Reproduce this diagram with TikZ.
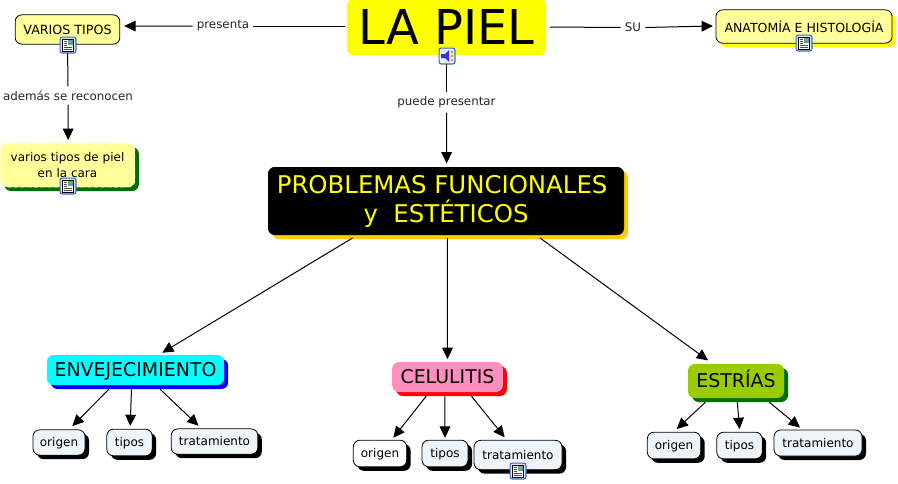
\documentclass[tikz,border=0pt]{standalone}
\usepackage{fontspec}
\setmainfont{DejaVu Sans}
\usetikzlibrary{arrows.meta,shadows}
\definecolor{palecream}{RGB}{255,255,153}
\definecolor{paleslate}{RGB}{238,244,247}
\definecolor{rosepink}{RGB}{255,143,190}
\definecolor{limeleaf}{RGB}{153,204,0}
\definecolor{leafdark}{RGB}{0,110,0}
\definecolor{goldedge}{RGB}{255,204,0}
\definecolor{iconblue}{RGB}{60,110,190}
\definecolor{puryellow}{RGB}{255,255,0}
\definecolor{purcyan}{RGB}{0,255,255}
\definecolor{purblue}{RGB}{0,0,255}
\definecolor{purred}{RGB}{255,0,0}
\tikzset{
  box/.style={rounded corners=5pt, inner sep=0pt, align=center, text=black},
  shbox/.style={box, general shadow={fill=#1, shadow xshift=3pt, shadow yshift=-3pt}},
  smallbox/.style={shbox=black, draw=black, line width=0.6pt, fill=paleslate,
    text height=7.5pt, text depth=1.5pt, font=\fontsize{9}{11}\selectfont},
  biglabel/.style={text height=10.2pt, text depth=0pt, font=\fontsize{14.2}{16}\selectfont},
  link/.style={draw=black, line width=0.75pt, -{Triangle[length=8.5pt,width=8pt]}},
  plainlink/.style={draw=black, line width=0.75pt},
  linklabel/.style={font=\fontsize{8.9}{10}\selectfont, text=black!85, inner sep=0pt}
}
\newcommand{\docicon}[2]{%
  \begin{scope}[shift={(#1,#2)}]
    \fill[iconblue, rounded corners=2pt] (-8.5,-8.5) rectangle (8.5,8.5);
    \fill[blue!12, rounded corners=1.5pt] (-7.3,-7.3) rectangle (7.3,7.3);
    \draw[black, line width=0.5pt, fill=white] (-5.5,-6) rectangle (5.5,6);
    \fill[teal!70] (0,-5) rectangle (4.5,-0.5);
    \fill[orange] (2,-4.5) rectangle (4,-2.5);
    \foreach \yy in {-4,-2,0} \draw[black!70, line width=0.5pt] (-4,\yy) -- (-1,\yy);
    \foreach \yy in {2,4} \draw[black!70, line width=0.5pt] (-4,\yy) -- (4,\yy);
  \end{scope}}
\newcommand{\speakericon}[2]{%
  \begin{scope}[shift={(#1,#2)}]
    \fill[iconblue, rounded corners=2pt] (-8.5,-8.5) rectangle (8.5,8.5);
    \fill[blue!8, rounded corners=1.5pt] (-7.3,-7.3) rectangle (7.3,7.3);
    \fill[blue!55!gray] (-6,-2) -- (-2,-2) -- (2,-6) -- (2,6) -- (-2,2) -- (-6,2) -- cycle;
    \foreach \yy in {-4,0,4} \fill[goldedge!80!black] (5,\yy) circle (1pt);
  \end{scope}}
\begin{document}
\begin{tikzpicture}[x=0.75pt, y=-0.75pt]
  \useasboundingbox (0,0) rectangle (898,483);
  % top row
  \node[box, fill=puryellow, minimum width=149.5pt, minimum height=42pt,
    font=\fontsize{36}{40}\selectfont] (piel) at (446.5,27) {LA PIEL};
  \node[box, draw=black, line width=0.6pt, fill=palecream, minimum width=78.5pt,
    minimum height=22pt, font=\fontsize{9.5}{11}\selectfont] (varios) at (67.5,29.5) {VARIOS TIPOS};
  \node[shbox=puryellow, draw=black, line width=0.6pt, fill=palecream, minimum width=132pt,
    minimum height=25pt, font=\fontsize{9.4}{11}\selectfont] (anatomia) at (804,26.5) {ANATOMÍA E HISTOLOGÍA};
  \node[shbox=leafdark, fill=palecream, draw=white, densely dashed, line width=0.5pt, minimum width=101pt,
    minimum height=33pt, font=\fontsize{9}{11.5}\selectfont] (cara) at (67.5,165) {varios tipos de piel\\en la cara};
  % main problem box
  \node[shbox=goldedge, fill=black, minimum width=267pt, minimum height=51pt,
    font=\fontsize{18.3}{21.75}\selectfont] (problemas) at (446,201)
    {\textcolor{puryellow}{PROBLEMAS FUNCIONALES\ }\\\textcolor{puryellow}{y\ \ ESTÉTICOS}};
  % three branches
  \node[shbox=purblue, biglabel, fill=purcyan, minimum width=133pt, minimum height=22.5pt] (env) at (135.5,370) {ENVEJECIMIENTO};
  \node[shbox=purred, biglabel, fill=rosepink, minimum width=83pt, minimum height=22.5pt] (cel) at (447.5,377) {CELULITIS};
  \node[shbox=leafdark, biglabel, fill=limeleaf, minimum width=72pt, minimum height=25.5pt] (est) at (736,381) {ESTRÍAS};
  % leaves
  \node[smallbox, minimum width=39pt, minimum height=19pt] (orig1) at (59,442.5) {origen};
  \node[smallbox, minimum width=34pt, minimum height=20pt] (tip1) at (129.5,442.5) {tipos};
  \node[smallbox, minimum width=65pt, minimum height=19pt] (trat1) at (214.5,441.5) {tratamiento};
  \node[smallbox, fill=white, minimum width=40pt, minimum height=20pt] (orig2) at (380,453.5) {origen};
  \node[smallbox, minimum width=34.5pt, minimum height=20pt] (tip2) at (445,453.5) {tipos};
  \node[smallbox, minimum width=66pt, minimum height=22pt] (trat2) at (518,455) {tratamiento};
  \node[smallbox, minimum width=40pt, minimum height=20pt] (orig3) at (674,445.5) {origen};
  \node[smallbox, minimum width=34pt, minimum height=20pt] (tip3) at (739.5,445.5) {tipos};
  \node[smallbox, minimum width=66pt, minimum height=19.5pt] (trat3) at (818,443) {tratamiento};
  % connector labels
  \node[linklabel] (presenta) at (223,26) {presenta};
  \node[linklabel] (su) at (633,27.5) {SU};
  \node[linklabel] (puede) at (446.5,102.5) {puede presentar};
  \node[linklabel] (ademas) at (68,95.5) {además se reconocen};
  % connectors
  \draw[plainlink] ([xshift=-1.5pt,yshift=0.75pt]piel.west) -- ([xshift=3pt]presenta.east);
  \draw[link] ([xshift=-3pt]presenta.west) -- ([xshift=3pt,yshift=2.6pt]varios.east);
  \draw[plainlink] ([xshift=2.5pt]piel.east) -- ([xshift=-3pt]su.west);
  \draw[link] ([xshift=3pt]su.east) -- ([xshift=-2pt,yshift=0.4pt]anatomia.west);
  \draw[plainlink] (piel.south) -- ([yshift=3pt]puede.north);
  \draw[link] ([yshift=-3pt]puede.south) -- ([xshift=0.5pt,yshift=2.5pt]problemas.north);
  \draw[plainlink] (varios.south) -- ([yshift=3pt]ademas.north);
  \draw[link] ([yshift=-3pt]ademas.south) -- ([xshift=0.5pt,yshift=2pt]cara.north);
  \draw[link] ([xshift=-70pt,yshift=-2pt]problemas.south) -- ([xshift=20pt,yshift=1.5pt]env.north);
  \draw[link] ([xshift=1pt,yshift=-2pt]problemas.south) -- ([yshift=2pt]cel.north);
  \draw[link] ([xshift=70.5pt,yshift=-2pt]problemas.south) -- ([xshift=-21pt,yshift=2.5pt]est.north);
  \draw[link] ([xshift=-20pt,yshift=-3pt]env.south) -- ([xshift=10pt,yshift=2.5pt]orig1.north);
  \draw[link] ([xshift=-3pt,yshift=-3pt]env.south) -- ([xshift=0.5pt,yshift=2pt]tip1.north);
  \draw[link] ([xshift=18.5pt,yshift=-3pt]env.south) -- ([xshift=-12pt,yshift=2pt]trat1.north);
  \draw[link] ([xshift=-16pt,yshift=-3pt]cel.south) -- ([xshift=10pt,yshift=1.5pt]orig2.north);
  \draw[link] ([xshift=-2pt,yshift=-3pt]cel.south) -- ([yshift=1.5pt]tip2.north);
  \draw[link] ([xshift=18pt,yshift=-3pt]cel.south) -- ([xshift=-10pt,yshift=2pt]trat2.north);
  \draw[link] ([xshift=-23pt,yshift=-3pt]est.south) -- ([xshift=2pt,yshift=2pt]orig3.north);
  \draw[link] ([xshift=1pt,yshift=-3pt]est.south) -- ([yshift=2pt]tip3.north);
  \draw[link] ([xshift=25pt,yshift=-3pt]est.south) -- ([xshift=-13.5pt,yshift=1.5pt]trat3.north);
  % icons
  \docicon{68}{45}
  \docicon{68}{186}
  \docicon{804}{43}
  \docicon{518}{471}
  \speakericon{447}{56}
\end{tikzpicture}
\end{document}
